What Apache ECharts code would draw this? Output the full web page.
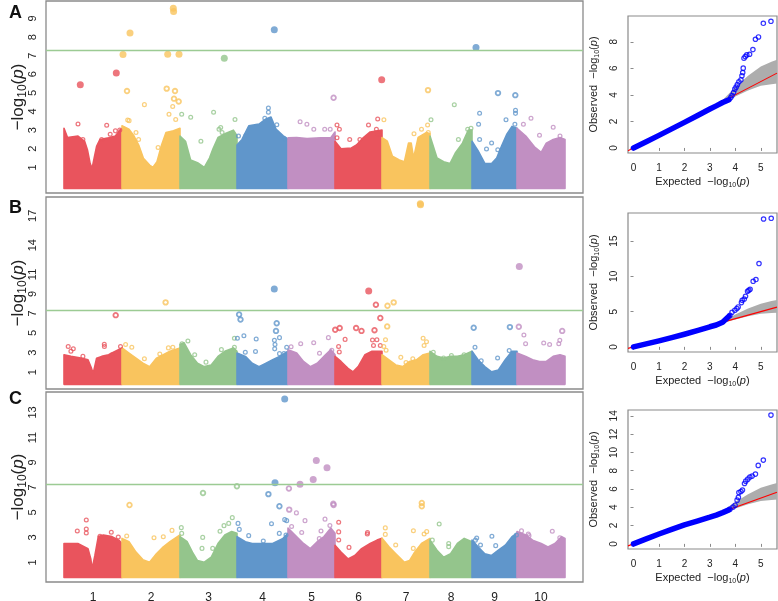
<!DOCTYPE html>
<html><head><meta charset="utf-8">
<script src="https://cdn.jsdelivr.net/npm/echarts@6/dist/echarts.min.js"></script>
<style>html,body{margin:0;padding:0;background:#fff}#c{width:778px;height:601px}</style>
</head><body><div id="c"></div>
<script>
// ---------------- DATA ----------------
const chromosomes = ['1','2','3','4','5','6','7','8','9','10'];
const chrLen = [58, 58, 57, 51, 47, 47, 48, 42, 45, 48];   // genome units (x 1000 SNPs)
const gwThreshold = 7.3;

// upper envelope of the dense point mass, per chromosome: [position, -log10 p]
const envA = [
 [[0,3.1],[3.5,2.6],[14,2.68],[20.6,2.4],[23.4,1.95],[26.1,1.21],[28.1,0.94],[30.2,1.5],[32.6,2.13],[36,2.5],[44.6,2.59],[51.4,2.68],[56.5,3.05],[58,3.05]],
 [[58,3.23],[65,3.05],[70,2.68],[74.7,2.2],[79.4,1.49],[85.6,1.12],[89,1.0],[93,1.3],[97.6,2.2],[102,2.87],[109.5,2.96],[116,3.1]],
 [[116,2.68],[121.5,2.4],[126.6,1.4],[133.5,1.25],[140.3,1.0],[145.5,1.5],[149,2.0],[154,2.6],[160.8,2.8],[169.4,3.0],[173,2.7]],
 [[173,2.2],[178,2.5],[184.8,3.23],[195,3.32],[202,3.6],[207,3.7],[212,3.05],[219,2.7],[224,2.5]],
 [[224,2.59],[232.7,2.6],[243,2.55],[256.6,2.59],[267,2.6],[271,2.9]],
 [[271,2.4],[277,2.0],[287.4,2.04],[292.5,2.2],[299.4,2.6],[306.2,2.9],[318,3.0]],
 [[318,2.6],[323.3,2.4],[328.4,1.6],[335.3,1.39],[340.4,1.3],[344.5,2.3],[347.2,2.3],[349.6,1.5],[354.1,2.6],[362.6,2.87],[366,2.8]],
 [[366,2.68],[373,1.5],[379.7,1.3],[386,1.2],[391.7,1.8],[398.5,2.3],[404.3,3.0],[408,3.0]],
 [[408,2.4],[414,1.9],[420.8,1.21],[427.6,1.2],[432.7,1.5],[438,2.2],[443,2.8],[448,3.2],[453,3.1]],
 [[453,3.1],[461.8,2.68],[470.4,2.1],[477.2,1.8],[482.3,2.3],[489.2,2.5],[496,2.6],[501,2.5]]
];
const envB = [
 [[0,2.78],[7,2.61],[17,2.43],[24,2.26],[27.5,1.38],[29.2,0.86],[32.6,2.43],[37.7,2.61],[44.6,2.78],[51.4,3.13],[58,3.48]],
 [[58,3.48],[65,2.95],[72,2.43],[79,1.91],[85.6,1.56],[92.4,2.43],[99.3,2.78],[106,3.13],[116,3.48]],
 [[116,3.84],[120,4.01],[126.6,2.78],[133.5,1.91],[140.3,1.56],[147.2,1.73],[154,2.61],[160.8,3.13],[169.4,3.48],[173,3.13]],
 [[173,2.95],[181.4,2.61],[188.2,1.91],[195,1.56],[202,1.91],[208.7,2.26],[215.6,2.61],[224,3.13]],
 [[224,3.3],[232.7,2.95],[239.5,2.09],[246.3,1.56],[253.2,1.91],[260,2.61],[266.9,3.3],[271,2.78]],
 [[271,2.61],[277,2.09],[284,1.38],[289,1.03],[294.2,1.56],[301,2.78],[308,3.13],[318,3.13]],
 [[318,2.78],[325,2.26],[331.8,1.73],[338.7,1.56],[345.5,2.09],[352.4,2.26],[359.2,2.78],[366,2.95]],
 [[366,3.13],[373,2.61],[379.7,2.43],[386.6,2.61],[393.4,2.61],[400.2,2.78],[408,3.13]],
 [[408,3.13],[414,2.26],[420.8,1.56],[427.6,1.03],[434.4,1.21],[441.3,2.26],[448,3.13],[453,3.13]],
 [[453,2.95],[461.8,2.61],[468.6,2.26],[475.5,2.09],[482.3,2.09],[489.2,2.61],[496,2.78],[501,2.61]]
];
const envC = [
 [[0,2.52],[13.8,2.52],[24,2.11],[26.8,1.29],[28.1,0.47],[30.9,1.56],[34.3,3.07],[39.4,3.2],[48,3.07],[54.8,2.79],[58,2.52]],
 [[58,2.93],[65,2.66],[72,1.83],[78.8,1.23],[85.6,1.02],[92.4,1.7],[99.3,2.25],[106,2.66],[116,3.2]],
 [[116,3.07],[123.2,2.66],[128.4,1.83],[133.5,1.15],[140.3,1.02],[147.2,1.42],[154,2.52],[160.8,3.2],[167.7,3.48],[173,3.34]],
 [[173,3.07],[181.4,2.66],[188.2,2.52],[198.5,2.52],[208.7,2.52],[219,2.93],[224,3.34]],
 [[224,3.75],[231,3.2],[239.5,2.52],[246.3,2.11],[253.2,2.66],[260,3.07],[266.9,3.75],[271,3.34]],
 [[271,2.38],[277,1.83],[284,1.29],[290.8,1.56],[297.6,2.11],[306.2,2.52],[313,2.79],[318,2.93]],
 [[318,2.93],[325,2.25],[331.8,1.7],[340.4,1.02],[345.5,1.15],[350.7,1.83],[357.5,2.52],[366,2.93]],
 [[366,2.79],[373,1.98],[379.7,1.42],[386.6,1.7],[393.4,2.52],[400.2,2.93],[408,2.66]],
 [[408,2.79],[414,2.25],[420.8,1.7],[427.6,1.56],[434.4,1.98],[441.3,2.38],[448,3.07],[453,3.34]],
 [[453,3.48],[461.8,3.2],[468.6,2.79],[477.2,2.52],[484,2.25],[490.9,2.52],[497.7,3.07],[501,2.93]]
];

// individual SNPs standing out of the mass: [position, -log10 p]
const outA = [
 [16.3,5.44],[52.3,6.07],[59,7.06],[66,8.22],[63,5.1],[80.4,4.37],[103.7,7.08],[115,7.08],[109.3,9.55],[109.6,9.38],
 [102.7,5.23],[111,5.1],[110,4.69],[114.7,4.54],[108.7,4.27],[105,3.85],[111.7,3.57],[63.7,3.54],[65.1,3.51],[72,2.87],[74.6,2.5],[94.1,2.07],
 [117.7,3.85],[126.7,3.69],[136.9,2.4],[149.6,3.96],[160.3,6.86],[171,3.57],[156.7,3.14],[155,3.05],[158.1,2.87],[161.9,2.68],
 [14,3.33],[42.7,3.26],[51.4,2.96],[55.8,3.0],[46.2,2.78],[37.7,2.5],[18.9,2.5],
 [210.3,8.4],[204.4,4.19],[204.4,3.96],[200.8,3.64],[212.8,3.29],[220.6,2.53],[174.5,2.68],[182,2.72],
 [269.6,4.74],[236.1,3.45],[242.9,3.32],[249.8,3.05],[260.7,3.05],[266.2,3.05],
 [273,3.27],[275.4,3.05],[273,2.59],[285.7,2.5],[295.9,2.5],[304.5,3.27],[313.7,3.6],[312.4,3.05],[314.1,2.77],
 [317.7,5.71],[364,5.15],[319.9,3.56],[350,2.81],[357.5,3.05],[363.6,3.27],[364.3,2.87],
 [367,3.56],[390.3,4.36],[394.4,2.5],[403.7,3.05],[407,3.1],
 [412,7.44],[434,4.99],[451.3,4.88],[415.6,3.91],[414.6,3.32],[415.6,2.5],[422.5,1.98],[427.6,2.31],[433.8,1.95],[442,3.56],[451.5,4.06],[451.5,3.9],[450.9,3.32],
 [467,3.64],[489.2,3.15],[459.4,3.32],[475.5,2.72],[496,2.68]
];
const outB = [
 [4.2,3.62],[6.9,3.13],[9.3,3.39],[18.9,2.61],[40.4,3.62],[40.3,3.84],[48,2.78],[56.5,3.62],[51.7,6.83],
 [61.6,3.83],[67.8,3.55],[80.4,2.36],[95.8,2.85],[104.4,3.48],[108.8,3.55],[101.6,8.14],
 [123.9,4.18],[118,3.9],[130.7,2.78],[142,2.02],[157.4,3.3],[170.4,3.55],[170.4,4.46],
 [175.1,6.9],[176.5,6.38],[179.9,4.73],[173.4,4.46],[192.2,4.39],[191.5,3.1],[181.3,3.03],
 [212.7,6.0],[212,5.22],[215.5,4.53],[210.4,4.25],[211,3.83],[210.7,3.38],[215.5,2.89],[220,2.89],[222.7,3.55],[210.3,9.5],
 [236.7,3.9],[227.1,3.59],[249.7,4.01],[255.5,2.93],[264.4,4.53],[267.8,3.23],
 [271.2,5.33],[275.7,5.51],[281.1,4.35],[274.6,3.62],[275.3,3.06],[292.1,5.51],[297.5,5.22],[310.5,5.29],[308.5,4.28],[312.9,4.31],[309.5,3.72],[316.3,3.72],[311.2,2.89],[304.7,9.3],[311.9,7.9],[316.3,6.54],
 [323.5,7.79],[329.7,8.14],[323.2,5.68],[321.5,4.31],[319.8,3.62],[322.1,3.23],[359.1,4.46],[360.1,3.72],[362.5,4.11],[336.8,2.51],[348.8,2.36],[342,1.98],[356.3,18.24],[356.5,18.14],
 [369.3,3.03],[387.4,2.71],[400.1,2.78],[379.6,2.44],
 [409.7,5.54],[411,3.55],[445.9,5.61],[445.2,3.2],[433.6,2.44],[417.2,2.15],
 [454.8,5.64],[459.9,4.8],[461.6,3.9],[479.7,3.97],[485.6,3.83],[494.8,3.9],[495.8,4.25],[498.2,5.22],[455.3,11.82]
];
const outC = [
 [22.3,4.4],[22.3,3.68],[22.3,3.36],[13.3,3.52],[47.3,3.42],[54.3,3.04],[36,3.1],
 [65.5,5.6],[90,2.98],[99.3,3.06],[108,3.57],[62.7,3.12],
 [139,6.56],[117.3,3.79],[138.7,3.01],[138,2.13],[148.7,2.13],[168.3,4.59],[164.7,4.13],[160,3.95],[156,3.5],[117.7,3.33],
 [172.9,7.1],[174,4.13],[175.3,3.65],[184.7,3.15],[220.7,14.08],[211,7.38],[204.4,6.47],[215.4,5.5],[207.5,4.1],[220.7,4.43],[222.7,4.35],[215.3,3.33],[222,3.2],[199.3,2.72],
 [252.3,9.17],[263,8.59],[249.2,7.64],[236,7.27],[224.9,6.92],[269.3,5.7],[269.6,5.6],[225.2,5.23],[232.4,4.97],[241,4.35],[261,4.47],[265.9,3.96],[257,3.52],[237.7,3.4],[227.6,3.88],[255.3,2.91],
 [274.7,4.22],[274.7,3.45],[274.7,2.8],[303.5,3.4],[303.3,3.28],[285,2.21],
 [357.8,5.76],[357.8,5.5],[321.3,3.77],[321.3,3.25],[349.4,3.54],[362.7,3.47],[360.1,3.28],[331.7,2.4],[349.3,2.13],
 [375.2,4.08],[384.7,2.52],[368.3,2.79],[384.7,2.27],
 [427.9,3.1],[431.7,2.35],[412.7,2.96],[416.5,2.4],[411.4,2.79],
 [488.3,3.5],[457.5,3.53],[465,3.15],[495.8,2.98],[464.3,3.28],[452.4,3.2]
];
const manhTicksA = [1,2,3,4,5,6,7,8,9];
const manhTicksB = [1,3,5,7,9,11,14,17];
const manhTicksC = [1,3,5,7,9,11,13];

// QQ plots
const qqBulkExp = [0, 0.5, 1, 1.5, 2, 2.5, 3, 3.25, 3.5, 3.75];
const qqBulkA = [0, 0.47, 0.95, 1.44, 1.93, 2.43, 2.93, 3.17, 3.42, 3.64];
const qqBulkB = [0, 0.42, 0.84, 1.3, 1.79, 2.3, 2.85, 3.1, 3.5, 4.35];
const qqBulkC = [0, 0.55, 1.08, 1.58, 2.08, 2.5, 2.92, 3.15, 3.42, 3.72];
const qqTailA = [[3.82,3.8],[3.87,3.95],[3.93,4.17],[3.98,4.43],[4.03,4.58],[4.08,4.77],[4.14,4.98],[4.22,5.13],[4.26,5.43],[4.29,5.68],[4.31,6.01],[4.34,6.76],[4.39,6.88],[4.45,7.01],[4.56,7.06],[4.69,7.41],[4.79,8.19],[4.91,8.36],[5.1,9.39],[5.4,9.54]];
const qqTailB = [[3.79,4.48],[3.87,4.91],[3.98,5.19],[4.06,5.43],[4.11,5.66],[4.24,6.28],[4.27,6.61],[4.35,6.79],[4.4,7.18],[4.48,7.89],[4.53,8.03],[4.58,8.17],[4.7,9.3],[4.81,9.55],[4.93,11.82],[5.11,18.14],[5.41,18.24]];
const qqTailC = [[3.79,3.8],[3.91,4.02],[3.99,4.23],[4.07,4.78],[4.12,5.08],[4.14,5.62],[4.22,5.73],[4.28,5.88],[4.36,6.61],[4.41,6.86],[4.49,7.08],[4.57,7.3],[4.66,7.41],[4.79,7.63],[4.9,8.58],[5.1,9.16],[5.4,14.08]];
const qqBandExp = [3.0, 3.5, 4.0, 4.5, 5.0, 5.42, 5.64];
const qqBandLo  = [2.98, 3.4, 3.87, 4.33, 4.68, 4.8, 4.85];
const qqBandHi  = [3.02, 3.62, 4.58, 5.43, 6.13, 6.5, 6.65];
const qqTicksX = [0,1,2,3,4,5];
const qqTicksYA = [0,2,4,6,8];
const qqTicksYB = [0,5,10,15];
const qqTicksYC = [0,2,4,6,8,10,12,14];
const panelLetters = ['A','B','C'];

// ---------------- STYLE / LAYOUT ----------------
const FONT = '"Liberation Sans", Arial, Helvetica, sans-serif';
const chrColors = ['#E9545D','#F9C45E','#94C58C','#6096CB','#C18FC2','#E9545D','#F9C45E','#94C58C','#6096CB','#C18FC2'];
const manhGrid = [{top:1,height:192},{top:197,height:192},{top:392,height:190}];
const manhLeft = 46, manhWidth = 537, manhX = [-18, 519];
const manhY = [[-0.38, 9.94],[-0.73, 18.93],[-0.56, 14.64]];
const qqGrid = [{top:16,height:137},{top:213,height:139},{top:410,height:139}];
const qqLeft = 628, qqWidth = 149, qqX = [-0.217, 5.637];
const qqY = [[-0.38, 9.94],[-0.73, 18.99],[-0.56, 14.64]];
const filledAbove = [5.4, 9.0, 7.2];
const ringAbove = [4.5, 5.0, 5.0];
const BORDER = '#8a8a8a';

// derived tables
const chrStart = []; let acc = 0;
chrLen.forEach(l => { chrStart.push(acc); acc += l; });
const chrMid = chrLen.map((l, i) => chrStart[i] + l / 2);
function chrOf(pos) { let k = 0; for (let i = 0; i < chrStart.length; i++) if (pos >= chrStart[i]) k = i; return k; }

function logTitle(prefix, fs) {
  const sub = Math.round(fs * 0.68), pad = Math.round(fs * 0.28);
  return {
    text: (prefix ? '{n|' + prefix + '}' : '') + '{n|\u2212log}{s|10}{n|(}{i|p}{n|)}',
    rich: {
      n: {fontSize: fs, fontFamily: FONT, color: '#222', lineHeight: fs, padding: [0,0,pad,0]},
      s: {fontSize: sub, fontFamily: FONT, color: '#222', lineHeight: sub, verticalAlign: 'bottom'},
      i: {fontSize: fs, fontFamily: FONT, color: '#222', fontStyle: 'italic', lineHeight: fs, padding: [0,0,pad,0]}
    }
  };
}

const grids = [], xAxes = [], yAxes = [], series = [];
const envs = [envA, envB, envC], outs = [outA, outB, outC], manhTicks = [manhTicksA, manhTicksB, manhTicksC];
const qqBulks = [qqBulkA, qqBulkB, qqBulkC], qqTails = [qqTailA, qqTailB, qqTailC], qqTicksY = [qqTicksYA, qqTicksYB, qqTicksYC];

const mt = logTitle('', 17);
for (let p = 0; p < 3; p++) {
  grids.push({left: manhLeft, width: manhWidth, top: manhGrid[p].top, height: manhGrid[p].height, show: true,
    borderColor: BORDER, borderWidth: 1.3, containLabel: false, outerBoundsMode: 'none'});
  xAxes.push({
    type: 'value', gridIndex: p, min: manhX[0], max: manhX[1],
    axisLine: {show: false}, axisTick: {show: false}, splitLine: {show: false},
    axisLabel: p === 2 ? {customValues: chrMid, margin: 10, fontSize: 12, color: '#222', fontFamily: FONT,
      formatter: v => { const k = chrMid.findIndex(m => Math.abs(m - v) < 0.01); return k >= 0 ? chromosomes[k] : ''; }} : {show: false}
  });
  yAxes.push({
    type: 'value', gridIndex: p, min: manhY[p][0], max: manhY[p][1],
    axisLine: {show: false}, axisTick: {show: false}, splitLine: {show: false},
    axisLabel: {customValues: manhTicks[p], rotate: 90, margin: 8, fontSize: 11, color: '#222', fontFamily: FONT},
    name: mt.text, nameLocation: 'middle', nameRotate: 90, nameGap: 17, nameMoveOverlap: false, nameTextStyle: {rich: mt.rich}
  });
  const env = envs[p];
  series.push({
    type: 'custom', xAxisIndex: p, yAxisIndex: p, silent: true, clip: true, z: 1,
    data: env.map((_, i) => [i]),
    renderItem: function (params, api) {
      const c = params.dataIndex;
      const pts = env[c].map(q => api.coord(q));
      const base = api.coord([0, 0])[1] + 2.5;
      pts.push([pts[pts.length - 1][0], base]);
      pts.push([pts[0][0], base]);
      return {type: 'polygon', shape: {points: pts}, style: {fill: chrColors[c], stroke: chrColors[c], lineWidth: 1.6, lineJoin: 'round'}};
    },
    markLine: {silent: true, symbol: 'none', label: {show: false}, data: [{yAxis: gwThreshold}],
      lineStyle: {color: '#9CCB94', width: 1.4, type: 'solid'}, animation: false}
  });
  series.push({
    type: 'scatter', xAxisIndex: p, yAxisIndex: p, z: 3, silent: true,
    data: outs[p].map(d => {
      const col = chrColors[chrOf(d[0])];
      if (d[1] >= filledAbove[p]) return {value: d, symbolSize: 7, itemStyle: {color: col, borderWidth: 0}};
      if (d[1] >= ringAbove[p]) return {value: d, symbolSize: 4.6, itemStyle: {color: 'rgba(0,0,0,0)', borderColor: col, borderWidth: 1.8}};
      return {value: d, symbolSize: 3.8, itemStyle: {color: 'rgba(0,0,0,0)', borderColor: col, borderWidth: 1.25}};
    })
  });
}

const xt = logTitle('Expected  ', 11), yt = logTitle('Observed  ', 11);
for (let p = 0; p < 3; p++) {
  const g = 3 + p;
  grids.push({left: qqLeft, width: qqWidth, top: qqGrid[p].top, height: qqGrid[p].height, show: true,
    borderColor: BORDER, borderWidth: 1.2, containLabel: false, outerBoundsMode: 'none'});
  xAxes.push({
    type: 'value', gridIndex: g, min: qqX[0], max: qqX[1],
    axisLine: {show: false}, splitLine: {show: false},
    axisTick: {show: true, customValues: qqTicksX, length: 3, lineStyle: {color: BORDER}},
    axisLabel: {customValues: qqTicksX, margin: 10, fontSize: 10, color: '#222', fontFamily: FONT},
    name: xt.text, nameLocation: 'middle', nameGap: 25, nameMoveOverlap: false, nameTextStyle: {rich: xt.rich}
  });
  yAxes.push({
    type: 'value', gridIndex: g, min: qqY[p][0], max: qqY[p][1],
    axisLine: {show: false}, splitLine: {show: false},
    axisTick: {show: true, customValues: qqTicksY[p], length: 3, lineStyle: {color: BORDER}},
    axisLabel: {customValues: qqTicksY[p], rotate: 90, margin: 9, fontSize: 10, color: '#222', fontFamily: FONT},
    name: yt.text, nameLocation: 'middle', nameRotate: 90, nameGap: 27, nameMoveOverlap: false, nameTextStyle: {rich: yt.rich}
  });
  series.push({
    type: 'custom', xAxisIndex: g, yAxisIndex: g, silent: true, clip: true, z: 1,
    data: [[0]],
    renderItem: function (params, api) {
      const up = qqBandExp.map((x, i) => api.coord([x, qqBandHi[i]]));
      const lo = qqBandExp.map((x, i) => api.coord([x, qqBandLo[i]])).reverse();
      return {type: 'polygon', shape: {points: up.concat(lo)}, style: {fill: '#ADADAD'}};
    }
  });
  series.push({
    type: 'line', xAxisIndex: g, yAxisIndex: g, silent: true, z: 2, showSymbol: false, symbol: 'none',
    data: [[qqX[0], qqX[0]], [qqX[1], qqX[1]]], lineStyle: {color: '#FF0000', width: 1.1}
  });
  series.push({
    type: 'line', xAxisIndex: g, yAxisIndex: g, silent: true, z: 3, showSymbol: false, symbol: 'none',
    data: qqBulkExp.map((x, i) => [x, qqBulks[p][i]]),
    lineStyle: {color: '#0000FF', width: 5.5, cap: 'round', join: 'round'}
  });
  series.push({
    type: 'scatter', xAxisIndex: g, yAxisIndex: g, silent: true, z: 4, symbolSize: 4.4,
    data: qqTails[p],
    itemStyle: {color: 'rgba(0,0,0,0)', borderColor: '#0000FF', borderWidth: 1.2}
  });
}

const letterTops = [4, 199, 390];
const graphic = panelLetters.map((t, i) => ({
  type: 'text', left: 9, top: letterTops[i],
  style: {text: t, font: 'bold 18px ' + FONT, fill: '#111'}
}));

const chart = echarts.init(document.getElementById('c'), null, {renderer: 'canvas'});
chart.setOption({animation: false, grid: grids, xAxis: xAxes, yAxis: yAxes, series: series, graphic: graphic});
</script>
</body></html>
